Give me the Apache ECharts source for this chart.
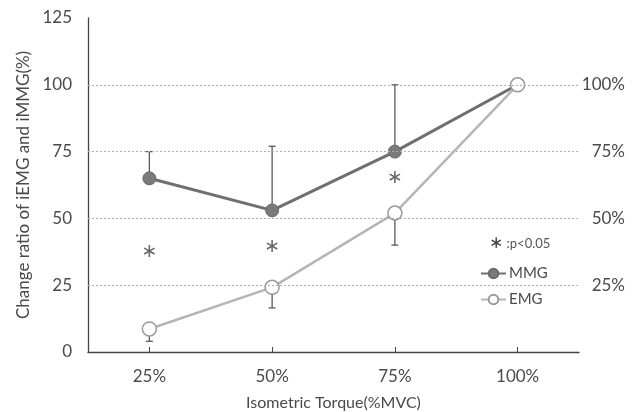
<!DOCTYPE html>
<html><head><meta charset="utf-8">
<script src="https://cdn.jsdelivr.net/npm/echarts@6/dist/echarts.min.js"></script>
<style>html,body{margin:0;padding:0;background:#fff}#c{width:639px;height:412px}</style>
</head><body><div id="c"></div>
<script>
var categories = ['25%', '50%', '75%', '100%'];
var mmg = [65, 53, 75, 100];
var mmgErrTop = [75, 77, 100, 100];
var emg = [8.6, 24.2, 52, 100];
var emgErrBottom = [4, 16.5, 40, 100];
var starY = [37.5, 39.3, 65];
var yTicks = [0, 25, 50, 75, 100, 125];
var rightTicks = [25, 50, 75, 100];

var FONT = 'Lato';
var TXT = '#4a4a4a';

function errSeries(vals, ends, color) {
  var data = vals.map(function (v, i) { return [i, v, ends[i]]; });
  return {
    type: 'custom', z: 1, silent: true,
    renderItem: function (params, api) {
      var a = api.coord([api.value(0), api.value(1)]);
      var b = api.coord([api.value(0), api.value(2)]);
      if (Math.abs(a[1] - b[1]) < 0.5) return null;
      var st = { stroke: color, lineWidth: 1.3 };
      return { type: 'group', children: [
        { type: 'line', shape: { x1: a[0], y1: a[1], x2: b[0], y2: b[1] }, style: st },
        { type: 'line', shape: { x1: b[0] - 3.5, y1: b[1], x2: b[0] + 3.5, y2: b[1] }, style: st }
      ]};
    },
    data: data
  };
}

var chart = echarts.init(document.getElementById('c'));
chart.setOption({
  animation: false,
  textStyle: { fontFamily: FONT },
  grid: { left: 88, right: 60, top: 18, bottom: 60, containLabel: false, outerBoundsMode: 'none' },
  xAxis: {
    type: 'category', data: categories, boundaryGap: true,
    name: 'Isometric Torque(%MVC)', nameLocation: 'middle', nameGap: 43,
    nameTextStyle: { fontFamily: FONT, fontSize: 16, color: TXT },
    axisLine: { lineStyle: { color: '#444', width: 1.3 } },
    axisTick: { show: true, alignWithLabel: true, inside: true, length: 5, lineStyle: { color: '#444' } },
    axisLabel: { fontFamily: FONT, fontSize: 17, color: TXT, margin: 16 }
  },
  yAxis: [{
    type: 'value', min: 0, max: 125, interval: 25,
    name: 'Change ratio of iEMG and iMMG(%)', nameLocation: 'middle', nameGap: 56, nameRotate: 90,
    nameTextStyle: { fontFamily: FONT, fontSize: 17, color: TXT },
    axisLine: { show: true, lineStyle: { color: '#444', width: 1.3 } },
    axisTick: { show: false },
    splitLine: { show: false },
    axisLabel: { fontFamily: FONT, fontSize: 17, color: TXT, margin: 16 }
  }, {
    type: 'value', min: 0, max: 125, interval: 25, position: 'right',
    axisLine: { show: false }, axisTick: { show: false }, splitLine: { show: false },
    axisLabel: {
      fontFamily: FONT, fontSize: 17, color: TXT, align: 'right', margin: 46,
      formatter: function (v) { return rightTicks.indexOf(v) >= 0 ? v + '%' : ''; }
    }
  }],
  legend: {
    orient: 'vertical', left: 475, top: 261, itemGap: 11, itemWidth: 25, itemHeight: 12,
    textStyle: { fontFamily: FONT, fontSize: 15, color: TXT, padding: [0, 0, 0, -2] },
    data: ['MMG', 'EMG']
  },
  graphic: [{
    type: 'text', left: 489, top: 235,
    style: {
      text: '{a|∗}{b| :p<0.05}',
      rich: {
        a: { fontFamily: 'DejaVu Sans', fontSize: 17, fill: '#444' },
        b: { fontFamily: FONT, fontSize: 13, fill: '#555' }
      }
    }
  }],
  series: [
    errSeries(mmg, mmgErrTop, '#5a5a5a'),
    errSeries(emg, emgErrBottom, '#5a5a5a'),
    {
      name: 'MMG', type: 'line', data: mmg, z: 3,
      symbol: 'circle', symbolSize: 13,
      lineStyle: { color: '#6f6f6f', width: 3 },
      itemStyle: { color: '#7a7a7a', borderColor: '#6a6a6a', borderWidth: 1 },
      markLine: {
        silent: true, symbol: 'none', label: { show: false },
        lineStyle: { type: [2, 2], color: '#b0b0b0', width: 1 },
        data: rightTicks.map(function (v) { return { yAxis: v }; })
      }
    },
    {
      name: 'EMG', type: 'line', data: emg, z: 4,
      symbol: 'circle', symbolSize: 14,
      lineStyle: { color: '#b5b5b5', width: 2.5 },
      itemStyle: { color: '#ffffff', borderColor: '#9a9a9a', borderWidth: 1.5 }
    },
    {
      type: 'scatter', data: starY, symbolSize: 0, silent: true, z: 5,
      label: { show: true, position: 'inside', formatter: '∗', fontFamily: 'DejaVu Sans', fontSize: 19, color: '#444' }
    }
  ]
});
</script></body></html>
